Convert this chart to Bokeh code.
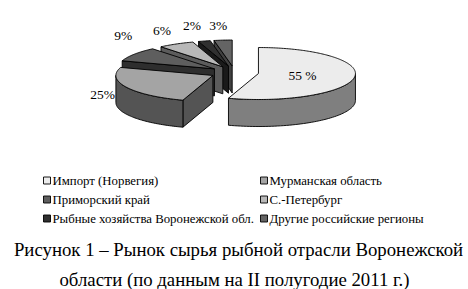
import numpy as np
from bokeh.plotting import figure
from bokeh.models import Range1d
from bokeh.embed import file_html
from bokeh.resources import INLINE
from bokeh.core.properties import value

# --- data -------------------------------------------------------------
categories = [
    "Импорт (Норвегия)",
    "Мурманская область",
    "Приморский край",
    "С.-Петербург",
    "Рыбные хозяйства Воронежской обл.",
    "Другие российские регионы",
]
shares = [55, 25, 9, 6, 2, 3]
share_labels = ["55 %", "25%", "9%", "6%", "2%", "3%"]

caption_lines = [
    "Рисунок 1 – Рынок сырья рыбной отрасли Воронежской",
    "области (по данным на II полугодие 2011 г.)",
]

# --- styling ----------------------------------------------------------
top_colors = ["#ECECEC", "#A4A4A4", "#5E5E5E", "#B8B8B8", "#303030", "#646464"]
side_colors = ["#7F7F7F", "#545454", "#2E2E2E", "#5C5C5C", "#1A1A1A", "#404040"]
FONT = value("Liberation Serif")

W, H = 468, 289
p = figure(width=W, height=H, x_range=Range1d(0, W), y_range=Range1d(H, 0),
           output_backend="svg", toolbar_location=None, min_border=0,
           x_axis_type=None, y_axis_type=None)
p.grid.visible = False
p.outline_line_color = None
p.background_fill_color = "white"
p.border_fill_color = "white"

# --- 3D pie geometry (clockwise from 12 o'clock, screen y grows down) ---
cx, cy = 234.0, 72.0      # pie centre
ra, rb = 97.0, 26.0       # ellipse radii of the top face
depth = 27.0              # slab thickness
explode = 0.25            # every slice pulled out along its bisector

fr = np.array(shares, dtype=float) / sum(shares)
ends = np.cumsum(fr) * 2 * np.pi
starts = ends - fr * 2 * np.pi
mids = (starts + ends) / 2


def ring(c, th, r=1.0):
    return c[0] + ra * r * np.sin(th), c[1] - rb * r * np.cos(th)


slices = []
for i in range(len(shares)):
    t1, t2, tm = starts[i], ends[i], mids[i]
    c = (cx + ra * explode * np.sin(tm), cy - rb * explode * np.cos(tm))
    polys = []
    # cut faces that turn towards the viewer
    for t, vis in ((t1, np.sin(t1) < -1e-6), (t2, np.sin(t2) > 1e-6)):
        if vis:
            ex, ey = ring(c, t)
            polys.append(([c[0], ex, ex, c[0]], [c[1], ey, ey + depth, c[1] + depth],
                          side_colors[i]))
    # curved outer wall, front half only
    lo, hi = max(t1, np.pi / 2), min(t2, 3 * np.pi / 2)
    if hi > lo:
        th = np.linspace(lo, hi, 60)
        ax, ay = ring(c, th)
        polys.append((list(ax) + list(ax[::-1]), list(ay) + list((ay + depth)[::-1]),
                      side_colors[i]))
    # top face
    th = np.linspace(t1, t2, max(3, int(np.degrees(t2 - t1)) + 2))
    tx, ty = ring(c, th)
    polys.append(([c[0]] + list(tx), [c[1]] + list(ty), top_colors[i]))
    slices.append((np.cos(tm), polys, c))

xs, ys, cols = [], [], []
for _, polys, _ in sorted(slices, key=lambda s: -s[0]):
    for px, py, col in polys:
        xs.append(px)
        ys.append(py)
        cols.append(col)
p.patches(xs=xs, ys=ys, fill_color=cols, line_color="black", line_width=0.9)

# --- value labels -----------------------------------------------------
lx, ly = [], []
nudges = [(0, 0), (2, 0), (13, -10), (0, 0), (-5, 0), (-2, 1)]
for i, tm in enumerate(mids):
    if i == 0:
        c = slices[0][2]
        x, y = ring(c, tm, 0.46)
    else:
        x = cx + ra * 1.55 * np.sin(tm)
        y = cy - rb * 1.85 * np.cos(tm)
    lx.append(x + nudges[i][0])
    ly.append(y + nudges[i][1])
p.text(x=lx, y=ly, text=share_labels, text_font=FONT, text_font_size="13.5px",
       text_align="center", text_baseline="middle", text_color="black")

# --- legend -----------------------------------------------------------
col_x = [43, 260]
row_y = [180, 199, 218]
mx, my, tx, ty = [], [], [], []
for i, name in enumerate(categories):
    x0 = col_x[i % 2]
    y0 = row_y[i // 2]
    mx.append(x0 + 3.5)
    my.append(y0)
    tx.append(x0 + 9)
    ty.append(y0)
p.rect(x=mx, y=my, width=7, height=7, fill_color=top_colors, line_color="black",
       line_width=0.9)
p.text(x=tx, y=ty, text=categories, text_font=FONT, text_font_size="12.8px",
       text_align="left", text_baseline="middle", text_color="black")

# --- caption ----------------------------------------------------------
p.text(x=[238, 234], y=[249, 279], text=caption_lines, text_font=FONT,
       text_font_size="18.8px", text_align="center", text_baseline="alphabetic",
       text_color="black")

open("out.html", "w").write(file_html(p, INLINE))
